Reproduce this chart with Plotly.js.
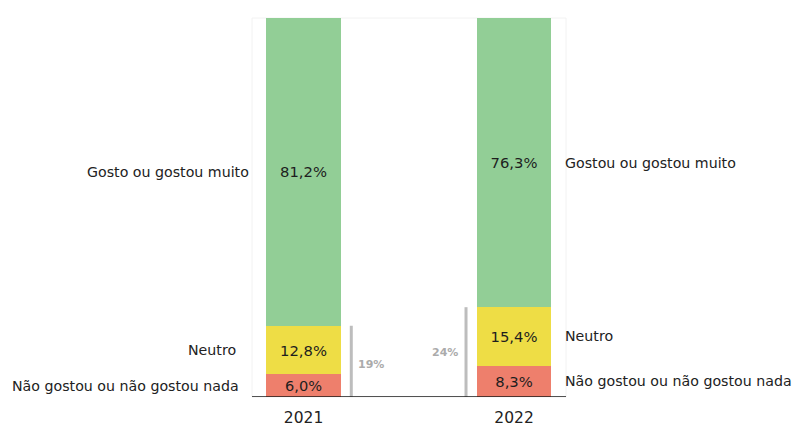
<!DOCTYPE html>
<html>
<head>
<meta charset="utf-8">
<script src="https://cdn.plot.ly/plotly-3.0.1.min.js"></script>
<style>html,body{margin:0;padding:0;background:#fff;}#chart{width:795px;height:444px;}</style>
</head>
<body>
<div id="chart"></div>
<script>
// ---- data ----
var years = ["2021", "2022"];
var naoGostou = [6.0, 8.3];
var neutro = [12.8, 15.4];
var gostou = [81.2, 76.3];
var leftLabels = ["Não gostou ou não gostou nada", "Neutro", "Gosto ou gostou muito"];
var rightLabels = ["Não gostou ou não gostou nada", "Neutro", "Gostou ou gostou muito"];

// ---- styles ----
var colors = ["#EE7F6C", "#EEDD45", "#92CE96"];
var FONT = "DejaVu Sans, Verdana, sans-serif";
var xs = [0, 1];
var barW = 0.356;

function fmt(v) { return v.toFixed(1).replace(".", ",") + "%"; }

var series = [naoGostou, neutro, gostou];
var traces = series.map(function (vals, i) {
  return {
    type: "bar",
    x: xs,
    y: vals,
    width: barW,
    marker: { color: colors[i], line: { width: 0 } },
    text: vals.map(fmt),
    textposition: "inside",
    insidetextanchor: "middle",
    textangle: 0,
    textfont: { family: FONT, size: 14.8, color: "#1e1e1e" },
    hoverinfo: "skip",
    showlegend: false
  };
});

var annotations = [];
var shapes = [];

// segment midpoints for side labels
function mids(k) {
  var base = 0, out = [];
  for (var s = 0; s < series.length; s++) {
    out.push(base + series[s][k] / 2);
    base += series[s][k];
  }
  return out;
}
var leftShift = [-11, -14, -1];
var m0 = mids(0), m1 = mids(1);
for (var s = 0; s < series.length; s++) {
  annotations.push({
    xref: "paper", yref: "y", x: 0, y: m0[s], xanchor: "right", yanchor: "middle",
    xshift: leftShift[s], text: leftLabels[s], showarrow: false,
    font: { family: FONT, size: 14.2, color: "#222" }
  });
  annotations.push({
    xref: "paper", yref: "y", x: 1, y: m1[s], xanchor: "left", yanchor: "middle",
    xshift: -3, text: rightLabels[s], showarrow: false,
    font: { family: FONT, size: 14.2, color: "#222" }
  });
}

// bracket lines (neutral + negative) and their percentages
var gapOff = [0.227, -0.228];
for (var k = 0; k < years.length; k++) {
  var tot = naoGostou[k] + neutro[k];
  var gx = xs[k] + gapOff[k];
  shapes.push({
    type: "line", xref: "x", yref: "y", x0: gx, x1: gx, y0: 0, y1: tot,
    line: { color: "#BDBDBD", width: 3 }
  });
  annotations.push({
    xref: "x", yref: "y", x: gx, y: tot / 2,
    xanchor: k === 0 ? "left" : "right", yanchor: "middle",
    xshift: k === 0 ? 5 : -6, yshift: k === 0 ? -3 : 0,
    text: "<b>" + Math.round(tot) + "%</b>", showarrow: false,
    font: { family: FONT, size: 11, color: "#ABABAB" }
  });
}

// faint frame and baseline
shapes.push({
  type: "rect", xref: "paper", yref: "paper", x0: 0, x1: 1, y0: 0, y1: 1,
  line: { color: "#F2F2F2", width: 1 }, layer: "below"
});
shapes.push({
  type: "line", xref: "paper", yref: "y", x0: 0, x1: 1, y0: 0, y1: 0,
  line: { color: "#1a1a1a", width: 1.5 }
});

var layout = {
  width: 795, height: 444,
  margin: { l: 252, r: 229, t: 18, b: 47 },
  paper_bgcolor: "#ffffff", plot_bgcolor: "#ffffff",
  barmode: "stack",
  xaxis: {
    range: [-0.2447, 1.247], tickvals: xs, ticktext: years,
    showgrid: false, zeroline: false, showline: false, ticks: "",
    ticklabelstandoff: 9,
    tickfont: { family: FONT, size: 15.5, color: "#222" },
    fixedrange: true
  },
  yaxis: {
    range: [0, 100], showgrid: false, zeroline: false, showline: false,
    showticklabels: false, ticks: "", fixedrange: true
  },
  annotations: annotations,
  shapes: shapes,
  font: { family: FONT }
};

Plotly.newPlot("chart", traces, layout, { displayModeBar: false, staticPlot: true });
</script>
</body>
</html>
